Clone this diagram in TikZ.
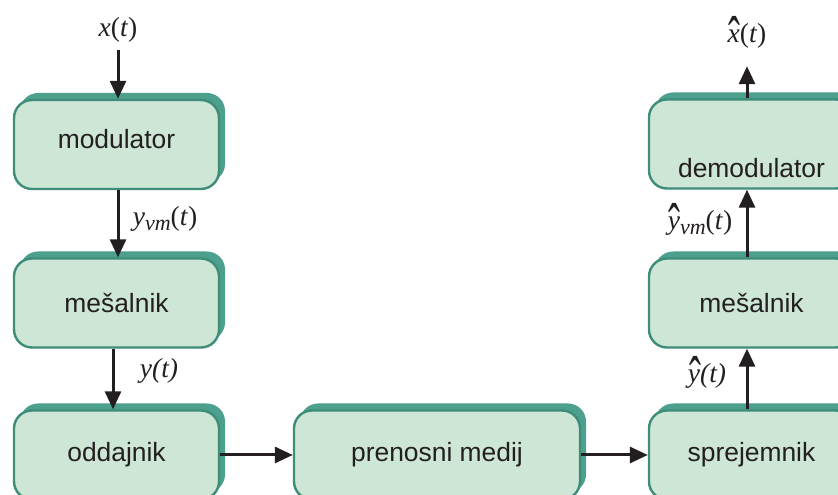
\documentclass[tikz,border=0pt]{standalone}
\usepackage{fontspec}
\usepackage{graphicx}
\setmainfont{Liberation Serif}
\setsansfont{Liberation Sans}
\usetikzlibrary{arrows.meta,shadows,positioning}
\definecolor{blokfill}{RGB}{205,230,213}
\definecolor{blokrob}{RGB}{62,140,122}
\definecolor{bloksenca}{RGB}{76,160,141}
\definecolor{crna}{RGB}{35,31,32}
\tikzstyle{blok}=[draw=blokrob,line width=2.4pt,fill=blokfill,text=crna,rounded corners=18pt,
  minimum width=205pt,minimum height=89pt,font=\sffamily\fontsize{26.4}{30}\selectfont,
  drop shadow={shadow xshift=6pt,shadow yshift=7pt,fill=bloksenca,opacity=1}]
\tikzstyle{signal}=[text=crna,inner sep=7pt,anchor=base,font=\fontsize{27.5}{30}\selectfont]
\tikzstyle{arrow}=[line width=3pt,-{Triangle[length=18pt,width=16pt]},draw=crna]
% hat over a letter, subscript
\newcommand{\kapa}[1]{\ooalign{#1\cr\hidewidth\kern2pt\raisebox{-16pt}{\scalebox{1.3}[2.2]{\upshape\char"02C6}}\hidewidth\cr}}
\newcommand{\indeks}[1]{\raisebox{-5pt}{\fontsize{22}{24}\selectfont\itshape #1}}

\begin{document}
\begin{tikzpicture}[x=1pt,y=1pt]
    \useasboundingbox (0,0) rectangle (838,495);
    % left column
    \node (MOD) [blok] at (116.5,350.5) {\raisebox{-4.5pt}[0pt][0pt]{modulator}};
    \node (MESL) [blok] at (116.5,192) {mešalnik};
    \node (ODD) [blok] at (116.5,40) {oddajnik};
    % bottom
    \node (PREN) [blok,minimum width=286pt] at (437,40) {prenosni medij};
    % right column
    \node (SPR) [blok] at (751.5,40) {sprejemnik};
    \node (MESD) [blok] at (751.5,192) {mešalnik};
    \node (DEM) [blok] at (751.5,351) {\raisebox{-34pt}[0pt][0pt]{demodulator}};

    \node (XIN) [signal] at (118,458) {\textit{x}(\textit{t})};
    \node (XOUT) [signal] at (747,452) {\textit{\kapa{x}}(\textit{t})};
    \node (YVM) [signal] at (165,269) {\textit{y}\indeks{vm}(\textit{t})};
    \node (Y) [signal] at (159,117) {\textit{y(t)}};
    \node (YVMD) [signal] at (700,265) {\textit{\kapa{y}}\indeks{vm}(\textit{t})};
    \node (YD) [signal] at (707,112) {\textit{\kapa{y}(t)}};

    \draw[arrow] (XIN) -- (XIN |- MOD.north);
    \draw[arrow] ([xshift=1.5pt]MOD.south) -- ([xshift=1.5pt]MESL.north);
    \draw[arrow] ([xshift=-3.5pt]MESL.south) -- ([xshift=-3.5pt]ODD.north);
    \draw[arrow] (ODD) -- (PREN);
    \draw[arrow] (PREN) -- (SPR);
    \draw[arrow] ([xshift=-4.5pt]SPR.north) -- ([xshift=-4.5pt]MESD.south);
    \draw[arrow] ([xshift=-4.5pt]MESD.north) -- ([xshift=-4.5pt]DEM.south);
    \draw[arrow] ([xshift=-4.5pt]DEM.north) -- (XOUT.south);
\end{tikzpicture}
\end{document}
